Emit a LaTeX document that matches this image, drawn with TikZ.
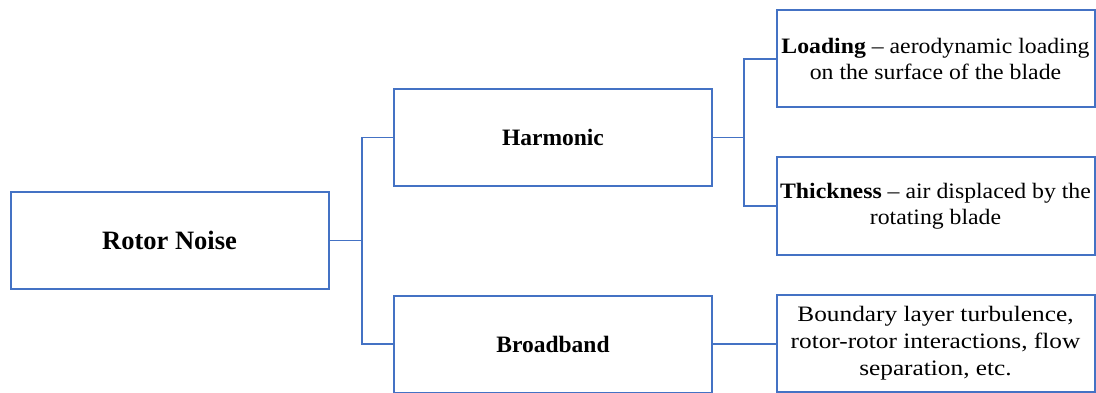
\documentclass[tikz,border=0pt]{standalone}
\usepackage{fontspec}
\setmainfont{Liberation Serif}
\newfontfamily\descfont[Ligatures=TeX, FakeStretch=1.08]{Liberation Serif}
\newfontfamily\listfont[Ligatures=TeX, FakeStretch=1.15]{Liberation Serif}
\definecolor{boxblue}{HTML}{4472C4}
\tikzset{
  block/.style={draw=boxblue, line width=2pt, fill=white, minimum width=318pt,
    minimum height=97pt, inner sep=0pt, align=center, anchor=center,
    font=\fontsize{23.5}{25.5}\selectfont},
  title/.style={block, font=\fontsize{23.5}{25.5}\selectfont\bfseries},
  desc/.style={block, font=\descfont\fontsize{22}{25.5}\selectfont},
  link/.style={draw=boxblue, line width=1.1pt}
}
\begin{document}
\begin{tikzpicture}[x=1pt, y=-1pt]
  \useasboundingbox (0,0) rectangle (1096,393);
  % tree nodes
  \node[title, font=\fontsize{26.5}{28}\selectfont\bfseries] (rotor) at (169.5,240.5) {Rotor Noise};
  \node[title] (harm) at (553,137.5) {Harmonic};
  \node[title] (broad) at (553,344) {Broadband};
  \node[desc] (load) at (935.5,59) {\textbf{Loading} -- aerodynamic loading\\on the surface of the blade};
  \node[desc, font=\descfont\fontsize{22}{26}\selectfont] (thick) at (935.5,206) {\textbf{Thickness} -- air displaced by the\\rotating blade};
  \node[desc, font=\listfont\fontsize{22}{27}\selectfont] (bound) at (935.5,343.5) {Boundary layer turbulence,\\rotor-rotor interactions, flow\\separation, etc.};
  % branching points
  \coordinate (hubA) at (362,240.5);
  \coordinate (hubB) at (744,137.5);
  % connectors
  \draw[link] (rotor.east) -- (hubA);
  \draw[link] (hubA) |- (harm.west);
  \draw[link] (hubA) |- (broad.west);
  \draw[link] (harm.east) -- (hubB);
  \draw[link] (hubB) |- (load.west);
  \draw[link] (hubB) |- (thick.west);
  \draw[link] (broad.east) -- (broad.east -| bound.west);
\end{tikzpicture}
\end{document}
